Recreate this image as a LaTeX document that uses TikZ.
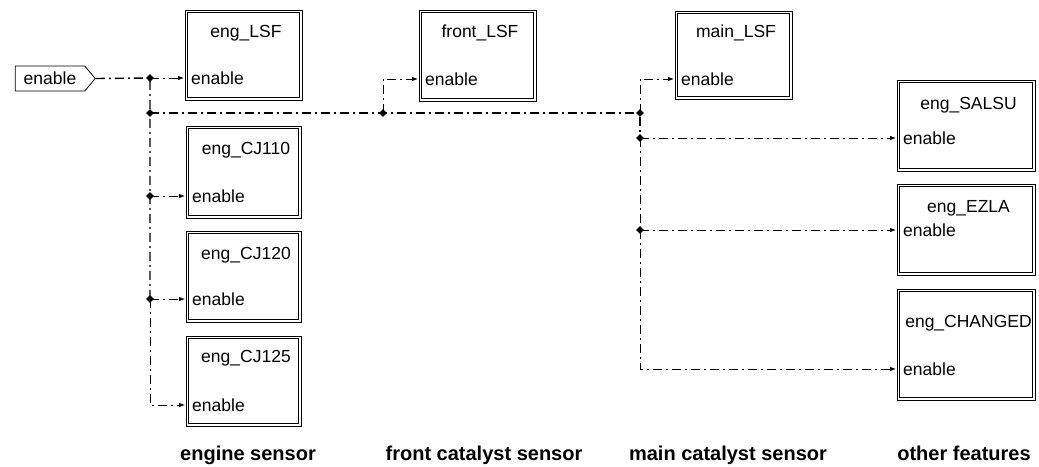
\documentclass[tikz,border=0pt]{standalone}
\usepackage{fontspec}
\setmainfont{Liberation Sans}
\usetikzlibrary{arrows.meta, shapes.geometric, shapes.symbols, positioning}

\tikzset{
  blk/.style={draw, line width=0.9pt, inner sep=0pt, anchor=north west},
  blkin/.style={line width=0.9pt},
  ttl/.style={inner sep=0pt, font=\fontsize{17.5}{20}\selectfont},
  portlbl/.style={inner sep=0pt, inner xsep=7pt, anchor=west, font=\fontsize{17.5}{20}\selectfont},
  grp/.style={inner sep=0pt, anchor=base, font=\fontsize{20}{24}\selectfont\bfseries},
  jdot/.style={diamond, fill, inner sep=0pt, minimum size=8pt},
  sig/.style={line width=0.8pt, dash pattern=on 9pt off 4pt on 2pt off 4pt},
  bus/.style={sig, line width=1.4pt},
  feed/.style={sig, -{Latex[length=6pt,width=4.5pt]}}
}

\begin{document}
\begin{tikzpicture}[x=1pt, y=-1pt]
  \useasboundingbox (0,0) rectangle (1039,466);

  % input port
  \node[draw, signal, signal to=east, signal pointer angle=100, minimum width=80pt,
        minimum height=25pt, inner sep=0pt, line width=0.8pt,
        font=\fontsize{17.5}{20}\selectfont] (in) at (50,78.5) {enable};

  % subsystem blocks
  \foreach \nm/\x/\y/\w/\h/\lbl/\ty/\py in {
      englsf/184/9/118/91/eng\_LSF/33/78,
      frontlsf/418/9/118/92/front\_LSF/33/79,
      mainlsf/674/10/118/89/main\_LSF/33/79,
      cj110/185/125/116/93/eng\_CJ110/150/196,
      cj120/185/230/116/92/eng\_CJ120/255/299,
      cj125/185/335/116/91/eng\_CJ125/358/405,
      salsu/896/79/139/92/eng\_SALSU/105/138,
      ezla/896/183/139/92/eng\_EZLA/208/230,
      changed/896/288/139/112/eng\_CHANGED/323/369} {
    \node[blk, minimum width=\w-1, minimum height=\h-1] (\nm) at (\x+0.5,\y+0.5) {};
    \draw[blkin] ([shift={(2.6pt,-2.6pt)}]\nm.north west) rectangle ([shift={(-2.6pt,2.6pt)}]\nm.south east);
    \node[ttl] (\nm-t) at (\x+\w/2+3,\ty) {\lbl};
    \node[portlbl] (\nm-in) at (\x,\py) {enable};
  }

  % branch points
  \coordinate (j0) at (150,78);
  \coordinate (jl1) at (150,113);
  \coordinate (jl2) at (150,196);
  \coordinate (jl3) at (150,299);
  \coordinate (jf) at (383,113);
  \coordinate (jm) at (640,113);
  \coordinate (jr1) at (640,138);
  \coordinate (jr2) at (640,230);

  % wiring
  \draw[bus] (in.east) -- (j0) -- (jl1) -- (jl2) -- (jl3);
  \draw[bus] (jl1) -- (jf) -- (jm) -- (jr1);
  \draw[sig] (jr1) -- (jr2);
  \draw[feed] (j0) -- (englsf-in.west);
  \draw[feed] (jl2) -- (cj110-in.west);
  \draw[feed] (jl3) -- (cj120-in.west);
  \draw[feed] (jl3) |- (cj125-in.west);
  \draw[feed] (jf) |- (frontlsf-in.west);
  \draw[feed] (jm) |- (mainlsf-in.west);
  \draw[feed] (jr1) -- (salsu-in.west);
  \draw[feed] (jr2) -- (ezla-in.west);
  \draw[feed] (jr2) |- (changed-in.west);

  \foreach \j in {j0,jl1,jl2,jl3,jf,jm,jr1,jr2}
    \node[jdot] (\j-d) at (\j) {};

  % group captions
  \node[grp] (gengine) at (248,460) {engine sensor};
  \node[grp] (gfront) at (484,460) {front catalyst sensor};
  \node[grp] (gmain) at (728,460) {main catalyst sensor};
  \node[grp] (gother) at (964,460) {other features};
\end{tikzpicture}
\end{document}
